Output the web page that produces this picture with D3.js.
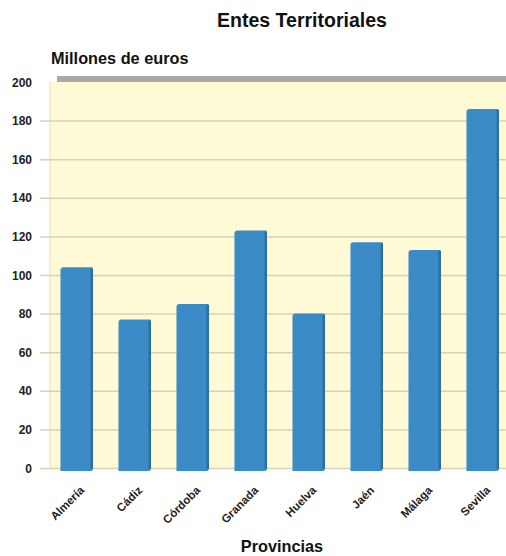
<!DOCTYPE html>
<html><head><meta charset="utf-8">
<script src="https://cdn.jsdelivr.net/npm/d3@7"></script>
<style>body{margin:0;background:#fff}svg{display:block;font-family:"Liberation Sans",Arial,sans-serif}</style>
</head><body><svg id="c" width="506" height="556"></svg>
<script>
const categories = ["Almería","Cádiz","Córdoba","Granada","Huelva","Jaén","Málaga","Sevilla"];
const values = [104, 77, 85, 123, 80, 117, 113, 186];
const yTicks = [0,20,40,60,80,100,120,140,160,180,200];

const svg = d3.select("#c");
const x = d3.scaleBand().domain(categories).range([48,512]).paddingInner(0.43).paddingOuter(0.215);
const y = d3.scaleLinear().domain([0,200]).range([468,82]);

// 3D top wall shade
svg.append("rect").attr("x",57).attr("y",76).attr("width",449).attr("height",6).attr("fill","#a9a9a6");
// plot background
svg.append("rect").attr("x",50).attr("y",y(200)).attr("width",456).attr("height",y(0)-y(200)).attr("fill","#fffad6");
svg.append("line").attr("x1",50).attr("x2",50).attr("y1",y(200)).attr("y2",y(0)).attr("stroke","#e6e1c4");

// grid + tick marks
svg.append("g").selectAll("line").data(yTicks.filter(d=>d<200)).join("line")
  .attr("x1",40).attr("x2",506).attr("y1",d=>y(d)+0.5).attr("y2",d=>y(d)+0.5)
  .attr("stroke","#d6d2b6").attr("stroke-width",1.5);

svg.append("g").selectAll("text").data(yTicks).join("text")
  .attr("x",32).attr("y",d=>y(d)+4.5).attr("text-anchor","end")
  .attr("font-size",12).attr("font-weight","bold").attr("fill","#222").text(d=>d);

// bars
const g = svg.append("g");
categories.forEach((c,i)=>{
  const bx = x(c), bw = x.bandwidth(), top = y(values[i]), bot = y(0)+3;
  g.append("path").attr("d",`M${bx},${bot} V${top+3} Q${bx},${top} ${bx+3},${top} H${bx+bw-1} V${bot-1} Q${bx+bw-1},${bot} ${bx+bw-3},${bot} Z`)
    .attr("fill","#3a8bc6");
  g.append("rect").attr("x",bx+bw-3).attr("y",top+1).attr("width",2.5).attr("height",bot-top-3).attr("fill","#2f6f9f");
});

// x labels
svg.append("g").selectAll("text").data(categories).join("text")
  .attr("transform",d=>`translate(${x(d)+x.bandwidth()/2+8},${491}) rotate(-45)`)
  .attr("text-anchor","end").attr("font-size",11.5).attr("font-weight","bold").attr("fill","#222").text(d=>d);

svg.append("text").attr("x",302).attr("y",27).attr("text-anchor","middle")
  .attr("font-size",19.5).attr("font-weight","bold").attr("fill","#111").text("Entes Territoriales");
svg.append("text").attr("x",51).attr("y",64)
  .attr("font-size",16.3).attr("font-weight","bold").attr("fill","#111").text("Millones de euros");
svg.append("text").attr("x",282).attr("y",552).attr("text-anchor","middle")
  .attr("font-size",16.3).attr("font-weight","bold").attr("fill","#111").text("Provincias");
</script></body></html>
